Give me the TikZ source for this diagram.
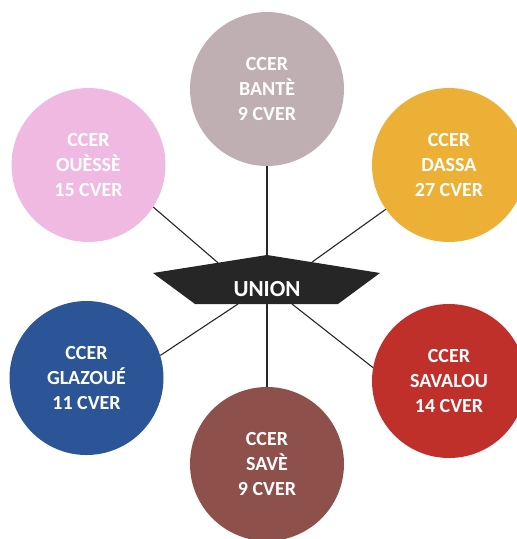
\documentclass[tikz,border=0pt]{standalone}
\usepackage{fontspec}
\setmainfont{Carlito}
\usetikzlibrary{positioning}
\definecolor{banteclr}{RGB}{191,175,178}
\definecolor{ouesseclr}{RGB}{240,185,225}
\definecolor{dassaclr}{RGB}{235,176,53}
\definecolor{glazoueclr}{RGB}{43,85,151}
\definecolor{saveclr}{RGB}{142,80,75}
\definecolor{savalouclr}{RGB}{192,48,42}
\definecolor{unionclr}{RGB}{38,38,38}

\begin{document}
\begin{tikzpicture}[
  x=1pt, y=-1pt,
  every node/.style={font=\bfseries\fontsize{20}{25}\selectfont},
  ccer/.style={circle, minimum size=154pt, inner sep=0pt, text=white, align=center},
  link/.style={draw=unionclr, line width=1.1pt}
]
\useasboundingbox (0,0) rectangle (517,539);
\coordinate (pl) at (153,273);
\coordinate (pt) at (267,255);
\coordinate (pr) at (380,273);
\coordinate (pbr) at (338,304);
\coordinate (pbl) at (195,304);
\coordinate (e1) at (218,262.8);
\coordinate (e2) at (312,262.1);
\coordinate (e3) at (238,304);
\coordinate (e4) at (267,304);
\coordinate (e5) at (292,304);
\fill[unionclr] (pl) -- (pt) -- (pr) -- (pbr) -- (pbl) -- cycle;
\node[text=white, font=\bfseries\fontsize{23}{28}\selectfont] (union) at (267,289) {UNION};
\node[ccer, fill=banteclr] (bante) at (267,89) {CCER\\BANTÈ\\9 CVER};
\node[ccer, fill=ouesseclr] (ouesse) at (88.5,165) {CCER\\OUÈSSÈ\\15 CVER};
\node[ccer, fill=dassaclr] (dassa) at (449,165) {CCER\\DASSA\\27 CVER};
\node[ccer, fill=glazoueclr] (glazoue) at (86.5,378) {CCER\\GLAZOUÉ\\11 CVER};
\node[ccer, fill=saveclr] (save) at (267,464) {CCER\\SAVÈ\\9 CVER};
\node[ccer, fill=savalouclr] (savalou) at (449,381) {CCER\\SAVALOU\\14 CVER};
\draw[link] (bante.south) -- (pt);
\draw[link] (ouesse.-33) -- (e1);
\draw[link] (dassa.-145) -- (e2);
\draw[link] (glazoue.17) -- (e3);
\draw[link] (save.north) -- (e4);
\draw[link] (savalou.170) -- (e5);
\end{tikzpicture}
\end{document}
